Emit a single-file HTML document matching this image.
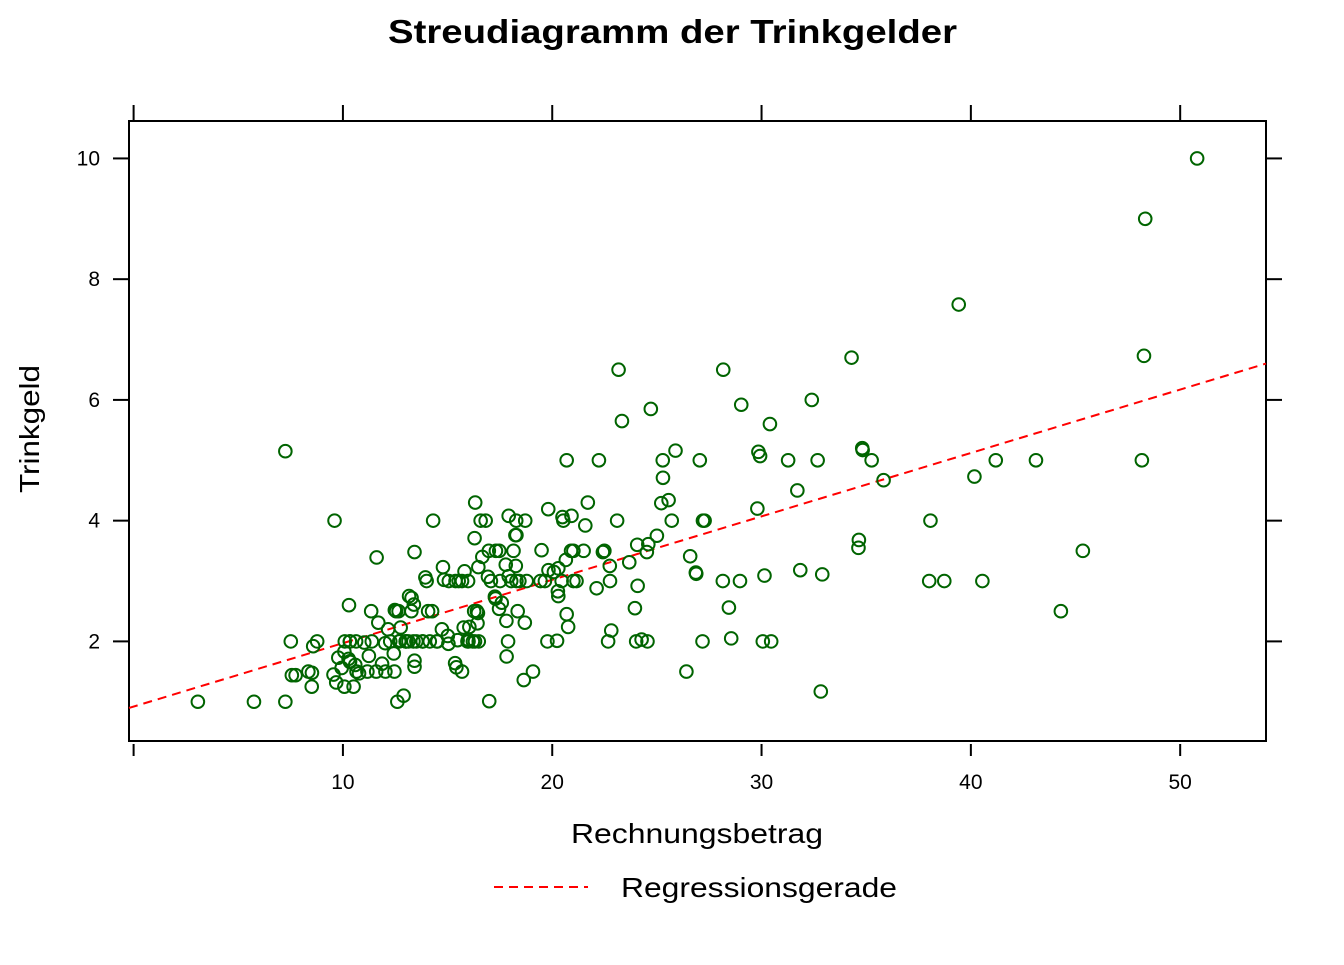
<!DOCTYPE html>
<html><head><meta charset="utf-8"><style>
body{margin:0;background:#fff}
svg text{font-family:"Liberation Sans",Arial,sans-serif}
</style></head><body>
<svg id="chart" width="1344" height="960" xmlns="http://www.w3.org/2000/svg">
<text x="388" y="43" textLength="569" lengthAdjust="spacingAndGlyphs" font-size="33" font-weight="bold">Streudiagramm der Trinkgelder</text>
<rect x="129" y="121" width="1137" height="620" fill="none" stroke="#000" stroke-width="2"/>
<g id="axes"></g>
<g id="line"></g>
<g id="points"></g>
<text x="571" y="843" textLength="252" lengthAdjust="spacingAndGlyphs" font-size="28">Rechnungsbetrag</text>
<text transform="translate(39,493) rotate(-90)" textLength="128" lengthAdjust="spacingAndGlyphs" font-size="28">Trinkgeld</text>
<g>
<line x1="494" y1="887" x2="588" y2="887" stroke="#ff0000" stroke-width="2" stroke-dasharray="9,6"/>
<text x="621" y="897" textLength="276" lengthAdjust="spacingAndGlyphs" font-size="28">Regressionsgerade</text>
</g>
</svg>
<script>
const bills=[16.99,10.34,21.01,23.68,24.59,25.29,8.77,26.88,15.04,14.78,10.27,35.26,15.42,18.43,14.83,21.58,10.33,16.29,16.97,20.65,17.92,20.29,15.77,39.42,19.82,17.81,13.37,12.69,21.7,19.65,9.55,18.35,15.06,20.69,17.78,24.06,16.31,16.93,18.69,31.27,16.04,17.46,13.94,9.68,30.4,18.29,22.23,32.4,28.55,18.04,12.54,10.29,34.81,9.94,25.56,19.49,38.01,26.41,11.24,48.27,20.29,13.81,11.02,18.29,17.59,20.08,16.45,3.07,20.23,15.01,12.02,17.07,26.86,25.28,14.73,10.51,17.92,27.2,22.76,17.29,19.44,16.66,10.07,32.68,15.98,34.83,13.03,18.28,24.71,21.16,28.97,22.49,5.75,16.32,22.75,40.17,27.28,12.03,21.01,12.46,11.35,15.38,44.3,22.42,20.92,15.36,20.49,25.21,18.24,14.31,14.0,7.25,38.07,23.95,25.71,17.31,29.93,10.65,12.43,24.08,11.69,13.42,14.26,15.95,12.48,29.8,8.52,14.52,11.38,22.82,19.08,20.27,11.17,12.26,18.26,8.51,10.33,14.15,16.0,13.16,17.47,34.3,41.19,27.05,16.43,8.35,18.64,11.87,9.78,7.51,14.07,13.13,17.26,24.55,19.77,29.85,48.17,25.0,13.39,16.49,21.5,12.66,16.21,13.81,17.51,24.52,20.76,31.71,10.59,10.63,50.81,15.81,7.25,31.85,16.82,32.9,17.89,14.48,9.6,34.63,34.65,23.33,45.35,23.17,40.55,20.69,20.9,30.46,18.15,23.1,15.69,19.81,28.44,15.48,16.58,7.56,10.34,43.11,13.0,13.51,18.71,12.74,13.0,16.4,20.53,16.47,26.59,38.73,24.27,12.76,30.06,25.89,48.33,13.27,28.17,12.9,28.15,11.59,7.74,30.14,12.16,13.42,8.58,15.98,13.42,16.27,10.09,20.45,13.28,22.12,24.01,15.69,11.61,10.77,15.53,10.07,12.6,32.83,35.83,29.03,27.18,22.67,17.82,18.78];
const tips=[1.01,1.66,3.5,3.31,3.61,4.71,2.0,3.12,1.96,3.23,1.71,5.0,1.57,3.0,3.02,3.92,1.67,3.71,3.5,3.35,4.08,2.75,2.23,7.58,3.18,2.34,2.0,2.0,4.3,3.0,1.45,2.5,3.0,2.45,3.27,3.6,2.0,3.07,2.31,5.0,2.24,2.54,3.06,1.32,5.6,3.0,5.0,6.0,2.05,3.0,2.5,2.6,5.2,1.56,4.34,3.51,3.0,1.5,1.76,6.73,3.21,2.0,1.98,3.76,2.64,3.15,2.47,1.0,2.01,2.09,1.97,3.0,3.14,5.0,2.2,1.25,3.08,4.0,3.0,2.71,3.0,3.4,1.83,5.0,2.03,5.17,2.0,4.0,5.85,3.0,3.0,3.5,1.0,4.3,3.25,4.73,4.0,1.5,3.0,1.5,2.5,3.0,2.5,3.48,4.08,1.64,4.06,4.29,3.76,4.0,3.0,1.0,4.0,2.55,4.0,3.5,5.07,1.5,1.8,2.92,2.31,1.68,2.5,2.0,2.52,4.2,1.48,2.0,2.0,2.18,1.5,2.83,1.5,2.0,3.25,1.25,2.0,2.0,2.0,2.75,3.5,6.7,5.0,5.0,2.3,1.5,1.36,1.63,1.73,2.0,2.5,2.0,2.74,2.0,2.0,5.14,5.0,3.75,2.61,2.0,3.5,2.5,2.0,2.0,3.0,3.48,2.24,4.5,1.61,2.0,10.0,3.16,5.15,3.18,4.0,3.11,2.0,2.0,4.0,3.55,3.68,5.65,3.5,6.5,3.0,5.0,3.5,2.0,3.5,4.0,1.5,4.19,2.56,2.02,4.0,1.44,2.0,5.0,2.0,2.0,4.0,2.01,2.0,2.5,4.0,3.23,3.41,3.0,2.03,2.23,2.0,5.16,9.0,2.5,6.5,1.1,3.0,1.5,1.44,3.09,2.2,3.48,1.92,3.0,1.58,2.5,2.0,3.0,2.72,2.88,2.0,3.0,3.39,1.47,3.0,1.25,1.0,1.17,4.67,5.92,2.0,2.0,1.75,3.0];
const xTicks=[0,10,20,30,40,50];
const yTicks=[2,4,6,8,10];
const NS="http://www.w3.org/2000/svg";
const X0=129,X1=1266,Y0=741,Y1=121;
const xmin=-0.22,xmax=54.1,ymin=0.35,ymax=10.62;
const sx=v=>X0+(v-xmin)/(xmax-xmin)*(X1-X0);
const sy=v=>Y0-(v-ymin)/(ymax-ymin)*(Y0-Y1);
function mk(tag,attrs,parent){const e=document.createElementNS(NS,tag);for(const k in attrs)e.setAttribute(k,attrs[k]);parent.appendChild(e);return e;}
const ax=document.getElementById('axes');
xTicks.forEach(t=>{
  const x=sx(t);
  const b=mk('line',{x1:x,x2:x,y1:744,y2:756,stroke:'#000','stroke-width':2},ax);
  
  
  const tp=mk('line',{x1:x,x2:x,y1:105,y2:121,stroke:'#000','stroke-width':2},ax);
  
  
  if(t>0){const l=mk('text',{x:x,y:789,'text-anchor':'middle','font-size':21},ax);l.textContent=t;
  
  }
});
yTicks.forEach(t=>{
  const y=sy(t);
  const a=mk('line',{x1:113,x2:129,y1:y,y2:y,stroke:'#000','stroke-width':2},ax);
  
  
  const r=mk('line',{x1:1266,x2:1282,y1:y,y2:y,stroke:'#000','stroke-width':2},ax);
  
  
  const l=mk('text',{x:100,y:y+7,'text-anchor':'end','font-size':21},ax);l.textContent=t;
  
  
});
const n=bills.length;let mx=0,my=0;for(let i=0;i<n;i++){mx+=bills[i];my+=tips[i];}mx/=n;my/=n;
let sxy=0,sxx=0;for(let i=0;i<n;i++){sxy+=(bills[i]-mx)*(tips[i]-my);sxx+=(bills[i]-mx)**2;}
const slope=sxy/sxx,ic=my-slope*mx;
const rl=mk('line',{x1:sx(xmin),y1:sy(ic+slope*xmin),x2:sx(xmax),y2:sy(ic+slope*xmax),stroke:'#ff0000','stroke-width':2,'stroke-dasharray':'9,6'},document.getElementById('line'));


const pg=document.getElementById('points');
for(let i=0;i<n;i++){
  const c=mk('circle',{cx:sx(bills[i]),cy:sy(tips[i]),r:6.3,fill:'none',stroke:'#006400','stroke-width':2},pg);
  
  
}
</script>
</body></html>
